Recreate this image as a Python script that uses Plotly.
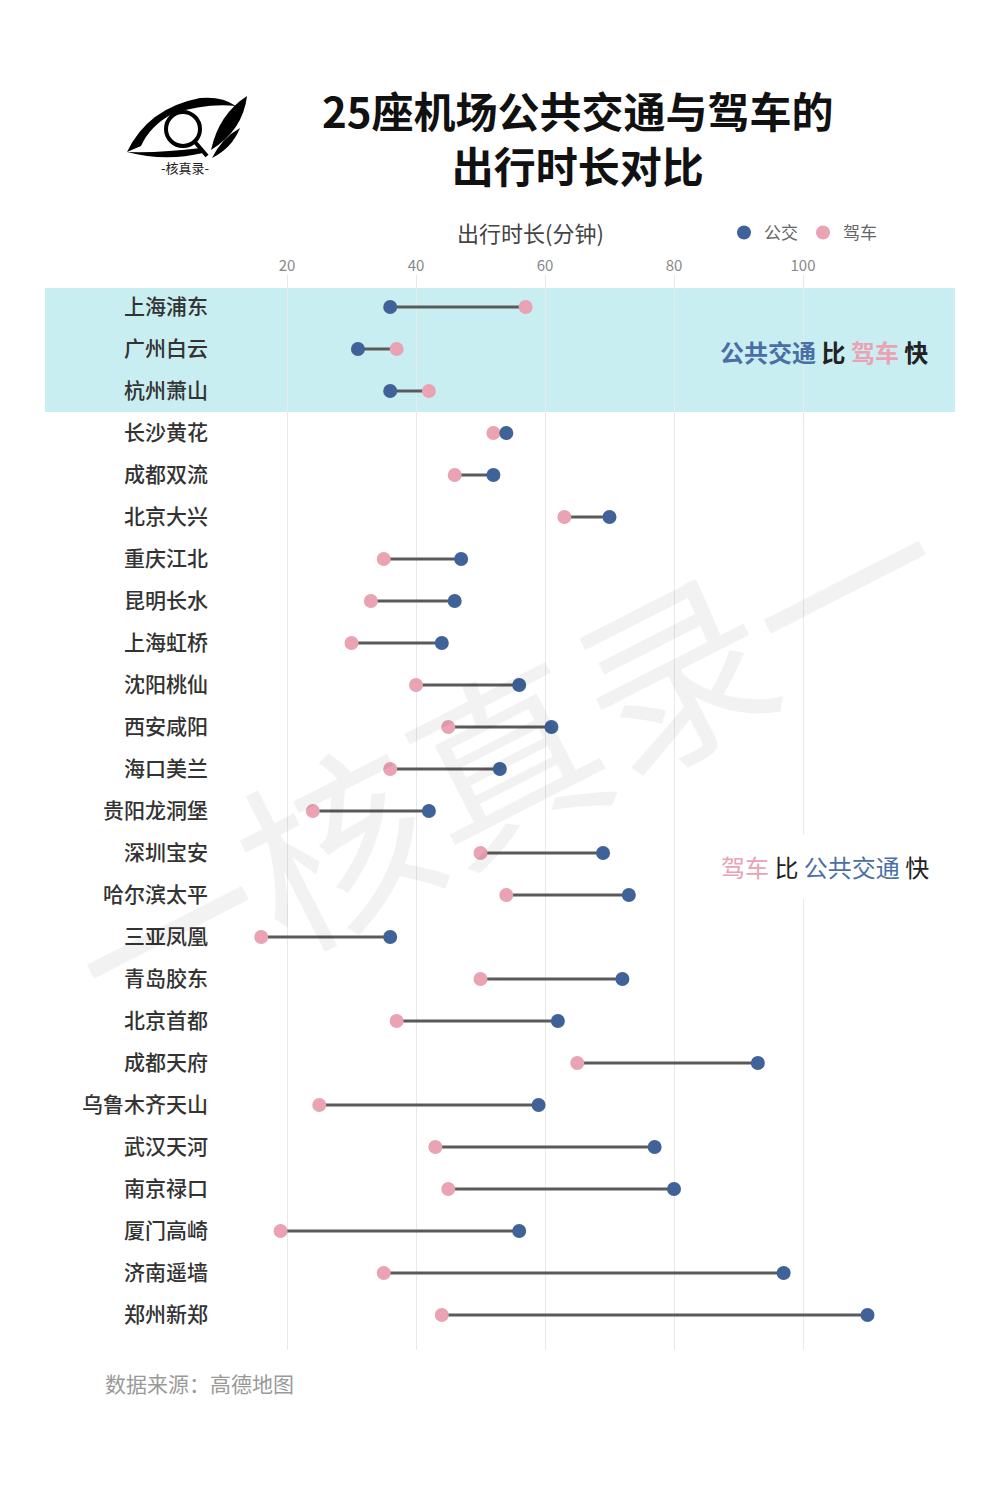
import plotly.graph_objects as go

cities = ["上海浦东", "广州白云", "杭州萧山", "长沙黄花", "成都双流", "北京大兴", "重庆江北",
          "昆明长水", "上海虹桥", "沈阳桃仙", "西安咸阳", "海口美兰", "贵阳龙洞堡", "深圳宝安",
          "哈尔滨太平", "三亚凤凰", "青岛胶东", "北京首都", "成都天府", "乌鲁木齐天山",
          "武汉天河", "南京禄口", "厦门高崎", "济南遥墙", "郑州新郑"]
bus = [36, 31, 36, 54, 52, 70, 47, 46, 44, 56, 61, 53, 42, 69, 73, 36, 72, 62, 93, 59, 77, 80, 56, 97, 110]
car = [57, 37, 42, 52, 46, 63, 35, 33, 30, 40, 45, 36, 24, 50, 54, 16, 50, 37, 65, 25, 43, 45, 19, 35, 44]
ticks = [20, 40, 60, 80, 100]

BLUE = "#3f6298"
PINK = "#e9a3b3"
FONT = "Noto Sans CJK SC"

W, H = 1000, 1500
L, R, T, B = 207, 53, 267, 158
pw = W - L - R
ph = H - T - B
OFF = 8  # page margin around the figure


def px(x):
    return (x - OFF - L) / pw


def py(y):
    return (H - B - (y - OFF)) / ph


def note(text, x, y, size, color, xanchor="center", **kw):
    fig.add_annotation(text=text, x=px(x), y=py(y), xref="paper", yref="paper",
                       xanchor=xanchor, yanchor="middle", showarrow=False,
                       font=dict(size=size, color=color, family=FONT), **kw)


# connecting segments
lx, ly = [], []
for c, b, d in zip(cities, bus, car):
    lx += [b, d, None]
    ly += [c, c, None]

fig = go.Figure()
fig.add_trace(go.Scatter(x=lx, y=ly, mode="lines", line=dict(color="#5a5a5a", width=3),
                         showlegend=False, hoverinfo="skip"))
fig.add_trace(go.Scatter(x=car, y=cities, mode="markers", name="驾车", legendrank=2,
                         marker=dict(color=PINK, size=14)))
fig.add_trace(go.Scatter(x=bus, y=cities, mode="markers", name="公交", legendrank=1,
                         marker=dict(color=BLUE, size=14)))

# band behind the first three rows (public transport faster)
fig.add_shape(type="rect", xref="paper", yref="paper", x0=px(45), x1=px(955), y0=py(412), y1=py(288),
              fillcolor="#c9eef2", line_width=0, layer="below")

# logo, rough
def logo_path(path):
    fig.add_shape(type="path", xref="paper", yref="paper", fillcolor="black", line_width=0, path=path)

logo_path(f"M {px(127)},{py(152)} Q {px(148)},{py(108)} {px(200)},{py(98)} "
          f"Q {px(222)},{py(96)} {px(236)},{py(106)} Q {px(205)},{py(103)} {px(172)},{py(114)} "
          f"Q {px(150)},{py(126)} {px(141)},{py(146)} Z")
logo_path(f"M {px(127)},{py(152)} Q {px(165)},{py(162)} {px(203)},{py(153)} "
          f"L {px(201)},{py(148)} Q {px(162)},{py(153)} {px(127)},{py(152)} Z")
fig.add_shape(type="circle", xref="paper", yref="paper", x0=px(166), x1=px(200), y0=py(146), y1=py(112),
              line=dict(color="black", width=4))
fig.add_shape(type="line", xref="paper", yref="paper", x0=px(195), x1=px(207), y0=py(142), y1=py(156),
              line=dict(color="black", width=4))
logo_path(f"M {px(211)},{py(150)} Q {px(219)},{py(114)} {px(247)},{py(96)} "
          f"Q {px(243)},{py(130)} {px(211)},{py(150)} Z")
logo_path(f"M {px(212)},{py(158)} Q {px(222)},{py(138)} {px(240)},{py(128)} "
          f"Q {px(232)},{py(148)} {px(212)},{py(158)} Z")

# watermark first so other texts sit above it
fig.add_annotation(text="一核真录一", x=px(502), y=py(752), xref="paper", yref="paper",
                   xanchor="center", yanchor="middle", textangle=-27, showarrow=False,
                   font=dict(size=190, color="rgba(0,0,0,0.05)", family=FONT))

note("-核真录-", 185, 167, 13, "#222")
note("<b>25座机场公共交通与驾车的<br>出行时长对比</b>", 578, 137, 42, "#111")
note("出行时长(分钟)", 530, 232, 22, "#444")
note('<b><span style="color:#4a6fa5">公共交通</span> 比 '
     f'<span style="color:{PINK}">驾车</span> 快</b>', 930, 352, 24, "#222", xanchor="right")
note(f'<span style="color:{PINK}">驾车</span> 比 '
     '<span style="color:#4a6fa5">公共交通</span> 快', 944, 866, 24, "#222", xanchor="right",
     bgcolor="white", borderpad=14)
note("数据来源：高德地图", 103, 1383, 21, "#999", xanchor="left")

fig.update_layout(
    width=W, height=H,
    margin=dict(l=L, r=R, t=T, b=B),
    paper_bgcolor="white", plot_bgcolor="rgba(0,0,0,0)",
    font=dict(family=FONT),
    legend=dict(orientation="h", x=px(724), y=py(233), xanchor="left", yanchor="middle",
                font=dict(size=17, color="#666"), itemwidth=30, bgcolor="rgba(0,0,0,0)"),
    xaxis=dict(side="top", range=[20 - (287 - OFF - L) / 6.45, 100 + (955 - 803) / 6.45],
               tickvals=ticks, ticks="", showline=False, zeroline=False,
               gridcolor="#e9e9e9", gridwidth=1, tickfont=dict(size=15, color="#888")),
    yaxis=dict(type="category", categoryarray=cities, range=[(1350 - 307) / 42, (275 - 307) / 42],
               showgrid=False, zeroline=False, ticks="", ticklabelstandoff=6,
               tickfont=dict(size=21, color="#333", weight=500)),
)

fig.write_html("out.html")
